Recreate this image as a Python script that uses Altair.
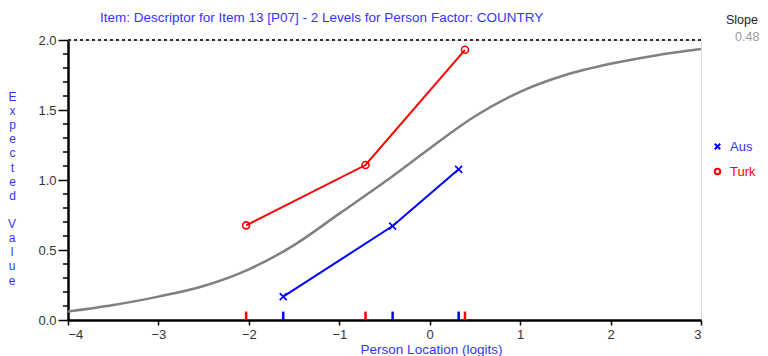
import altair as alt
import pandas as pd

# ICC curve (logits vs expected value)
curve_x = [-4.0, -3.5, -3.0, -2.5, -2.0, -1.5, -1.0, -0.5, 0.0, 0.5, 1.0, 1.5, 2.0, 2.5, 3.0]
curve_y = [0.06, 0.107, 0.167, 0.243, 0.362, 0.535, 0.76, 0.985, 1.225, 1.455, 1.63, 1.75, 1.83, 1.89, 1.935]

# class interval observed means
aus_x = [-1.62, -0.41, 0.32]
aus_y = [0.167, 0.671, 1.076]
turk_x = [-2.03, -0.71, 0.39]
turk_y = [0.676, 1.107, 1.93]

groups = ["Aus", "Turk"]
group_colors = ["#0000ff", "#ff0000"]
x_ticks = [-4, -3, -2, -1, 0, 1, 2, 3]
y_major = [0.0, 0.5, 1.0, 1.5, 2.0]
y_minor = [0.1, 0.2, 0.3, 0.4, 0.6, 0.7, 0.8, 0.9,
           1.1, 1.2, 1.3, 1.4, 1.6, 1.7, 1.8, 1.9]
title_text = "Item: Descriptor for Item 13 [P07] - 2 Levels for Person Factor: COUNTRY"
y_title_1 = ["E", "x", "p", "e", "c", "t", "e", "d"]
y_title_2 = "V|a|l|u|e"
slope_value = "0.48"

curve_df = pd.DataFrame({"x": curve_x, "y": curve_y})
obs_df = pd.DataFrame({
    "x": aus_x + turk_x,
    "y": aus_y + turk_y,
    "g": ["Aus"] * len(aus_x) + ["Turk"] * len(turk_x),
})
minor_df = pd.DataFrame({"v": y_minor})

FONT = "Liberation Sans"
BLUE_TXT = "#3333ff"
LH = 14.2
TY = 51

x_scale = alt.Scale(domain=[-4, 3], nice=False, zero=False)
y_scale = alt.Scale(domain=[0, 2], nice=False)
color_scale = alt.Scale(domain=groups, range=group_colors)
shape_scale = alt.Scale(domain=groups, range=["M-1,-1L1,1M1,-1L-1,1", "circle"])

x_axis = alt.Axis(
    values=x_ticks, format="d", grid=False, domainColor="black", domainWidth=2.5,
    tickColor="black", tickWidth=1.5, tickSize=5, labelFont=FONT, labelFontSize=13,
    labelColor="#333333", labelPadding=3, title="Person Location (logits)",
    titleFont=FONT, titleFontSize=13.5, titleFontWeight="normal", titleColor=BLUE_TXT,
    titleX=363, titleY=33, titleAlign="center", titleBaseline="alphabetic",
)
y_axis = alt.Axis(
    values=y_major, format=".1f", grid=False, domainColor="black", domainWidth=2.5,
    tickColor="black", tickWidth=1.5, tickSize=10, labelOverlap=False,
    labelFont=FONT, labelFontSize=13, labelColor="#333333", labelPadding=2,
    title=y_title_1,
    titleAngle=0, titleX=-56, titleY=TY, titleAlign="center", titleBaseline="top",
    titleFont=FONT, titleFontSize=12, titleFontWeight="normal", titleColor=BLUE_TXT,
    titleLineHeight=LH,
)

legend = alt.Legend(
    title=None, orient="none", legendX=643, legendY=100, padding=0,
    symbolSize=30, symbolStrokeWidth=2, rowPadding=10, labelOffset=6,
    labelFont=FONT, labelFontSize=13,
    labelColor={"expr": "datum.label == 'Aus' ? '#3333ff' : '#ff0000'"},
)

base_curve = alt.Chart(curve_df).mark_line(
    color="#808080", strokeWidth=2.5, interpolate="monotone"
).encode(
    x=alt.X("x:Q", scale=x_scale, axis=x_axis),
    y=alt.Y("y:Q", scale=y_scale, axis=y_axis),
)

minor_ticks = alt.Chart(minor_df).mark_rule(color="black", strokeWidth=1.5).encode(
    x=alt.value(-5), x2=alt.value(0), y="v:Q"
)

dashed = alt.Chart(curve_df).mark_rule(
    color="#333333", strokeDash=[3, 3], strokeWidth=1.2
).encode(
    x=alt.datum(-4), x2=alt.datum(3), y=alt.datum(2)
)

lines = alt.Chart(obs_df).mark_line(strokeWidth=2).encode(
    x="x:Q", y="y:Q",
    color=alt.Color("g:N", scale=color_scale, legend=legend),
    detail="g:N",
)

points = alt.Chart(obs_df).mark_point(size=49, strokeWidth=1.6, opacity=1).encode(
    x="x:Q", y="y:Q",
    color=alt.Color("g:N", scale=color_scale, legend=legend),
    shape=alt.Shape("g:N", scale=shape_scale, legend=legend),
)

rug = alt.Chart(obs_df).mark_rule(strokeWidth=2.5).encode(
    x="x:Q", y=alt.datum(0), y2=alt.datum(0.06),
    color=alt.Color("g:N", scale=color_scale, legend=legend),
)

y_title_rest = alt.Chart(pd.DataFrame({"t": [y_title_2]})).mark_text(
    align="center", baseline="top", font=FONT, fontSize=12, color=BLUE_TXT,
    lineBreak="|", lineHeight=LH,
).encode(text="t:N", x=alt.value(-56), y=alt.value(TY + 9 * LH))

title_mark = alt.Chart(pd.DataFrame({"t": [title_text]})).mark_text(
    align="left", baseline="alphabetic", font=FONT, fontSize=13.5, color=BLUE_TXT
).encode(text="t:N", x=alt.value(32), y=alt.value(-18))

slope_label = alt.Chart(pd.DataFrame({"t": ["Slope"]})).mark_text(
    align="left", baseline="middle", font=FONT, fontSize=12.5, color="#222222"
).encode(text="t:N", x=alt.value(658), y=alt.value(-20))

slope_val = alt.Chart(pd.DataFrame({"t": [slope_value]})).mark_text(
    align="left", baseline="middle", font=FONT, fontSize=12.5, color="#999999"
).encode(text="t:N", x=alt.value(667), y=alt.value(-3))

chart = alt.layer(
    base_curve, minor_ticks, dashed, lines, rug, points,
    y_title_rest, title_mark, slope_label, slope_val
).properties(
    width=633, height=280,
    autosize=alt.AutoSizeParams(type="none"),
    padding={"left": 60, "top": 32, "right": 59, "bottom": 36},
).configure_view(stroke=None).configure(background="white")

chart.save("out.html", embed_options={"renderer": "svg", "actions": False})
